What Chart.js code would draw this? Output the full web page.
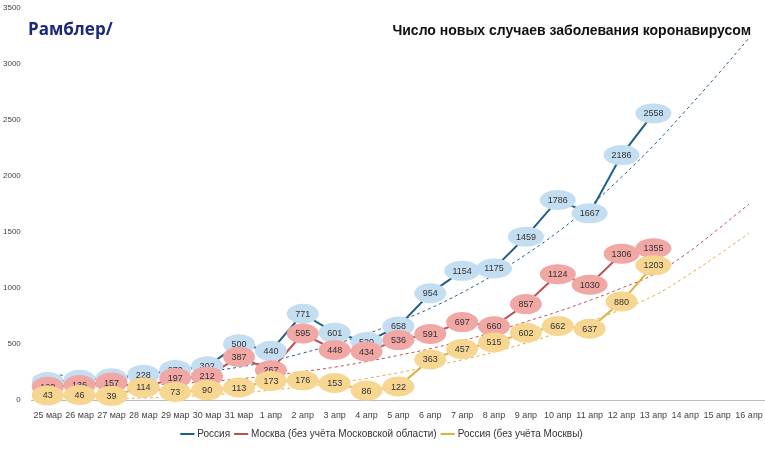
<!DOCTYPE html>
<html><head><meta charset="utf-8">
<script src="https://cdn.jsdelivr.net/npm/chart.js@4"></script>
<style>
body{margin:0;background:#fff;font-family:Calibri,"Liberation Sans",Arial,sans-serif}
#wrap{position:relative;width:765px;height:451px}
#logo{position:absolute;left:28px;top:17px;font:bold 17px "Open Sans",sans-serif;color:#1b2a78}
#title{position:absolute;right:14px;top:22px;font:bold 14px "Liberation Sans",Arial,sans-serif;color:#111}
</style></head><body>
<div id="wrap">
<canvas id="c" width="765" height="451"></canvas>
<div id="logo">Рамблер/</div>
<div id="title">Число новых случаев заболевания коронавирусом</div>
</div>
<script>
var days = ['25 мар','26 мар','27 мар','28 мар','29 мар','30 мар','31 мар','1 апр','2 апр','3 апр','4 апр','5 апр','6 апр','7 апр','8 апр','9 апр','10 апр','11 апр','12 апр','13 апр','14 апр','15 апр','16 апр'];
var russia = [163,182,196,228,270,302,500,440,771,601,520,658,954,1154,1175,1459,1786,1667,2186,2558];
var moscow = [120,136,157,114,197,212,387,267,595,448,434,536,591,697,660,857,1124,1030,1306,1355];
var regions = [43,46,39,114,73,90,113,173,176,153,86,122,363,457,515,602,662,637,880,1203];
var russiaTrend = [230,215,205,210,225,255,295,350,420,500,590,700,820,960,1120,1300,1500,1730,1990,2270,2580,2900,3230];
var moscowTrend = [130,125,128,135,148,165,190,220,255,295,345,400,460,530,610,700,790,890,1000,1120,1300,1520,1750];
var regionsTrend = [20,15,15,20,30,45,65,90,120,155,195,245,300,360,430,510,600,700,810,930,1100,1290,1490];

var blue = '#1f5f8b', red = '#c0504d', gold = '#e0b040';
var fills = {0:'#c3ddf1',1:'#f1a7a4',2:'#f6d690'};

var bubbles = {
  id: 'bubbles',
  afterDatasetsDraw: function (chart) {
    var ctx = chart.ctx;
    [0,1,2].forEach(function (i) {
      var meta = chart.getDatasetMeta(i);
      meta.data.forEach(function (p, k) {
        var v = chart.data.datasets[i].data[k];
        var w = String(v).length > 3 ? 18 : 16;
        ctx.save();
        ctx.beginPath();
        ctx.ellipse(p.x, p.y, w, 10, 0, 0, Math.PI * 2);
        ctx.fillStyle = fills[i];
        ctx.fill();
        ctx.fillStyle = '#333';
        ctx.font = '9px "Liberation Sans", Arial, sans-serif';
        ctx.textAlign = 'center';
        ctx.textBaseline = 'middle';
        ctx.fillText(v, p.x, p.y + 0.5);
        ctx.restore();
      });
    });
  }
};

function trend(data, color) {
  return {data: data, borderColor: color, borderWidth: 1, borderDash: [3, 3], pointRadius: 0, tension: 0.4, fill: false};
}

new Chart(document.getElementById('c'), {
  type: 'line',
  data: {
    labels: days,
    datasets: [
      {label: 'Россия', data: russia, borderColor: blue, backgroundColor: blue, borderWidth: 2, pointRadius: 0},
      {label: 'Москва (без учёта Московской области)', data: moscow, borderColor: red, backgroundColor: red, borderWidth: 2, pointRadius: 0},
      {label: 'Россия (без учёта Москвы)', data: regions, borderColor: gold, backgroundColor: gold, borderWidth: 2, pointRadius: 0},
      trend(russiaTrend, blue),
      trend(moscowTrend, red),
      trend(regionsTrend, gold)
    ]
  },
  options: {
    responsive: false,
    animation: false,
    layout: {padding: {top: 2, right: 0, left: 0, bottom: 2}},
    plugins: {
      tooltip: {enabled: false},
      legend: {
        position: 'bottom',
        labels: {
          filter: function (item) { return item.datasetIndex < 3; },
          usePointStyle: true, pointStyle: 'line', boxWidth: 14,
          font: {size: 10, family: '"Liberation Sans", Arial, sans-serif'}, color: '#333', padding: 6
        }
      }
    },
    scales: {
      x: {offset: true, grid: {display: false}, ticks: {font: {size: 9}, color: '#444', maxRotation: 0, autoSkip: false, padding: 2}, border: {color: '#bbb'}},
      y: {min: 0, max: 3500, grid: {display: false}, border: {display: false},
          ticks: {stepSize: 500, font: {size: 8}, color: '#444', callback: function (v) { return v; }}}
    }
  },
  plugins: [bubbles]
});
</script>
</body></html>
